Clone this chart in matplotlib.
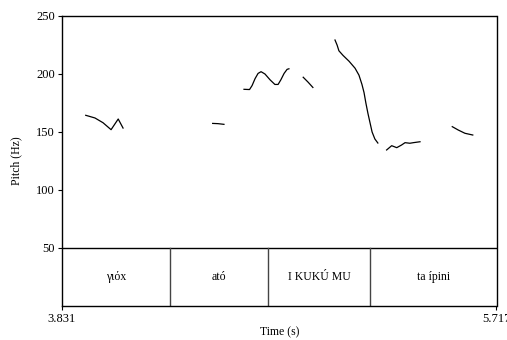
import matplotlib.pyplot as plt

plt.rcParams['font.family'] = ['Liberation Serif', 'DejaVu Serif']

t_start, t_end = 3.831, 5.717

# pitch contour segments (time in s, pitch in Hz)
seg1_t = [3.934, 3.974, 4.009, 4.044, 4.075, 4.096]
seg1_f = [164.4, 162.1, 158.0, 152.0, 161.2, 153.4]

seg2_t = [4.485, 4.508, 4.534]
seg2_f = [157.4, 157.2, 156.6]

seg3_t = [4.621, 4.645, 4.656, 4.669, 4.682, 4.695, 4.712, 4.734, 4.755, 4.769, 4.781, 4.795, 4.808, 4.816]
seg3_f = [186.8, 186.6, 190.0, 196.0, 200.5, 202.0, 200.0, 195.0, 191.0, 191.0, 195.0, 200.5, 204.0, 204.5]

seg4_t = [4.878, 4.899, 4.920]
seg4_f = [197.2, 193.0, 188.4]

seg5_t = [5.016, 5.025, 5.033, 5.051, 5.077, 5.103, 5.120, 5.133, 5.142, 5.150, 5.159, 5.168, 5.177, 5.189, 5.202]
seg5_f = [229.3, 225.0, 220.0, 216.0, 211.0, 205.0, 199.0, 191.0, 184.0, 175.0, 166.0, 158.0, 150.0, 144.0, 140.5]

seg6_t = [5.240, 5.262, 5.284, 5.305, 5.320, 5.341, 5.356, 5.385]
seg6_f = [134.5, 138.2, 136.5, 138.8, 140.8, 140.3, 140.8, 141.6]

seg7_t = [5.525, 5.551, 5.580, 5.614]
seg7_f = [154.6, 151.7, 148.9, 147.4]

segments = [(seg1_t, seg1_f), (seg2_t, seg2_f), (seg3_t, seg3_f), (seg4_t, seg4_f),
            (seg5_t, seg5_f), (seg6_t, seg6_f), (seg7_t, seg7_f)]

# text tier
boundaries = [4.300, 4.725, 5.168]
labels = ["γιόx", "ató", "I KUKÚ MU", "ta ípini"]

fig = plt.figure(figsize=(5.07, 3.40), dpi=100)
ax = fig.add_axes([62 / 507, 34 / 340, 434.5 / 507, 290 / 340])

for t, f in segments:
    ax.plot(t, f, color="black", linewidth=0.9)

# tier box
ax.axhline(50, color="black", linewidth=1.0)
for b in boundaries:
    ax.plot([b, b], [0, 50], color="#444444", linewidth=1.0)
edges = [t_start] + boundaries + [t_end]
for i, lab in enumerate(labels):
    ax.text((edges[i] + edges[i + 1]) / 2, 25, lab, ha="center", va="center", fontsize=8.5)

ax.set_xlim(t_start, t_end)
ax.set_ylim(0, 250)
ax.set_yticks([50, 100, 150, 200, 250])
ax.set_xticks([t_start, t_end])
ax.set_xticklabels(["3.831", "5.717"])
ax.tick_params(direction="out", length=3, width=0.8, labelsize=9, pad=2)
for s in ax.spines.values():
    s.set_linewidth(1.0)
ax.set_ylabel("Pitch (Hz)", fontsize=8.5, labelpad=10)
ax.set_xlabel("Time (s)", fontsize=8.5, labelpad=1)

fig.savefig("out.png", dpi=100)
